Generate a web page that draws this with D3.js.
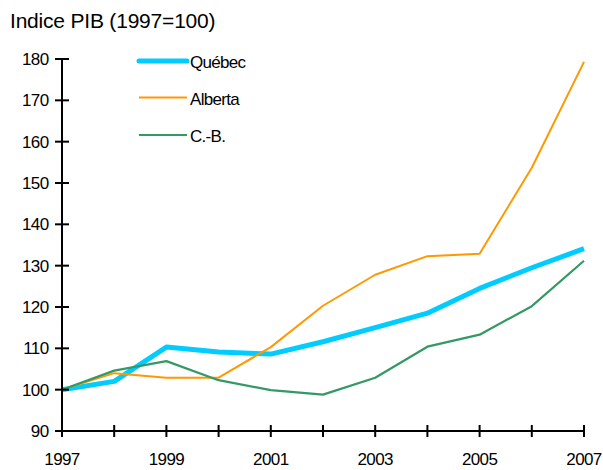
<!DOCTYPE html>
<html><head><meta charset="utf-8">
<script src="https://cdn.jsdelivr.net/npm/d3@7"></script>
<style>body{margin:0;background:#fff}svg{display:block}text{font-family:"Liberation Sans",Arial,sans-serif;fill:#000}</style>
</head><body><svg id="c" width="603" height="470"></svg>
<script>
const years = [1997,1998,1999,2000,2001,2002,2003,2004,2005,2006,2007];
const quebec = [100,102.0,110.3,109.1,108.6,111.6,115.0,118.5,124.5,129.5,134.1];
const alberta = [100,104.0,102.9,102.9,110.3,120.3,127.8,132.3,132.9,153.7,179.3];
const cb = [100,104.6,106.9,102.3,99.9,98.8,102.9,110.4,113.3,120.2,131.2];
const yTicks = [90,100,110,120,130,140,150,160,170,180];
const xLabels = [1997,1999,2001,2003,2005,2007];
const seriesNames = ["Québec","Alberta","C.-B."];
const colors = ["#00CCFF","#FF9900","#339966"];
const widths = [5,2,2.2];

const svg = d3.select("#c");
const x = d3.scaleLinear().domain([1997,2007]).range([62,584]);
const y = d3.scaleLinear().domain([90,180]).range([431,59]);

svg.append("text").attr("x",10).attr("y",28).attr("font-size",21).attr("letter-spacing",-0.2).text("Indice PIB (1997=100)");

const series = [quebec,alberta,cb];
const line = d3.line().x((d,i)=>x(years[i])).y(d=>y(d));
[0,1,2].forEach(k=>{
  svg.append("path").attr("d",line(series[k])).attr("fill","none")
    .attr("stroke",colors[k]).attr("stroke-width",widths[k]).attr("stroke-linejoin","round");
});

// y axis
const ya = svg.append("g");
ya.append("line").attr("x1",62).attr("x2",62).attr("y1",y(180)).attr("y2",y(90)).attr("stroke","#000").attr("stroke-width",2);
yTicks.forEach(t=>{
  ya.append("line").attr("x1",55).attr("x2",69).attr("y1",y(t)).attr("y2",y(t)).attr("stroke","#000").attr("stroke-width",2);
  ya.append("text").attr("x",48.5).attr("y",y(t)+6).attr("text-anchor","end").attr("font-size",17).attr("letter-spacing",-0.6).text(t);
});
// x axis
const xa = svg.append("g");
xa.append("line").attr("x1",x(1997)).attr("x2",x(2007)).attr("y1",y(90)).attr("y2",y(90)).attr("stroke","#000").attr("stroke-width",2);
years.forEach(t=>{
  xa.append("line").attr("x1",x(t)).attr("x2",x(t)).attr("y1",y(90)-6).attr("y2",y(90)+6).attr("stroke","#000").attr("stroke-width",2);
});
xLabels.forEach(t=>{
  xa.append("text").attr("x",x(t)).attr("y",465).attr("text-anchor","middle").attr("font-size",17).attr("letter-spacing",-0.6).text(t);
});

// legend
const legY = [61,97.5,135];
seriesNames.forEach((n,k)=>{
  svg.append("line").attr("x1",139).attr("x2",187).attr("y1",legY[k]).attr("y2",legY[k])
    .attr("stroke",colors[k]).attr("stroke-width",widths[k]).attr("stroke-linecap",k==0?"round":"butt");
  svg.append("text").attr("x",190).attr("y",legY[k]+7).attr("font-size",17).attr("letter-spacing",-0.7).text(n);
});
</script></body></html>
